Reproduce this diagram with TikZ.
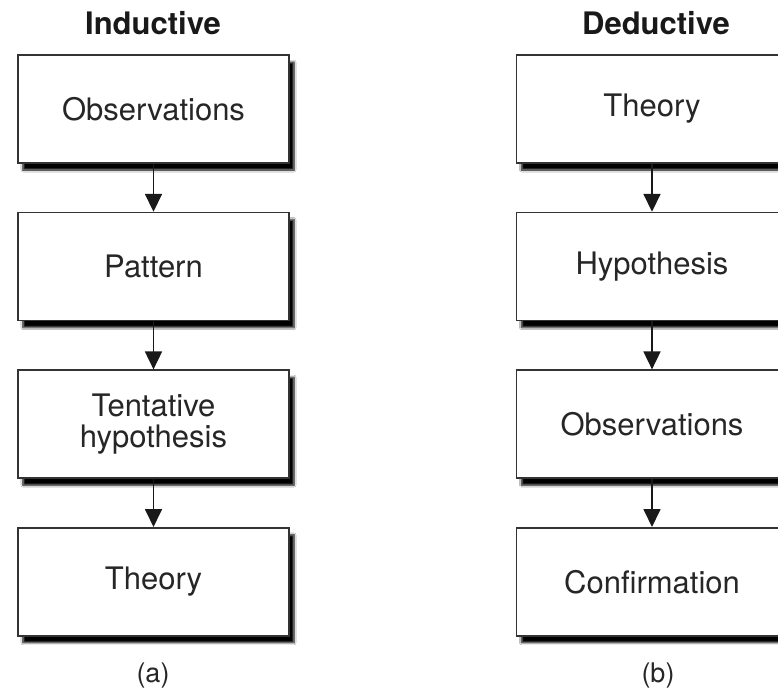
\documentclass[tikz,border=0pt]{standalone}
\usepackage{fontspec}
\setmainfont{TeX Gyre Heros}
\usetikzlibrary{positioning,arrows.meta,shadows.blur}
\tikzset{
  stage/.style={draw=black!80, line width=0.8pt, fill=white,
    minimum width=135.5pt, minimum height=54pt, align=center,
    font=\fontsize{15.5}{15.5}\selectfont, text=black!85,
    blur shadow={shadow xshift=2.5pt, shadow yshift=-3.5pt, shadow blur steps=6,
      shadow blur radius=1pt, shadow opacity=100}},
  flow/.style={-{Triangle[length=9pt,width=8.5pt]}, line width=0.9pt, black!90},
  heading/.style={font=\bfseries\fontsize{15.5}{17}\selectfont, text=black!90},
  caption/.style={font=\fontsize{13.5}{15}\selectfont, text=black!85},
}
\begin{document}
\begin{tikzpicture}[x=0.5pt, y=-0.5pt, node distance=24pt]
\clip (0,0) rectangle (778,690);
\fill[white] (0,0) rectangle (778,690);
% inductive
\node[heading] (ind) at (153,23) {Inductive};
\node[stage] (iobs) at (153.5,109) {Observations};
\node[stage, below=of iobs] (ipat) {Pattern};
\node[stage, below=of ipat] (ihyp) {Tentative\\hypothesis};
\node[stage, below=of ihyp] (ithy) {Theory};
\node[caption] (a) at (153,676) {(a)};
\draw[flow](iobs)--(ipat);
\draw[flow](ipat)--(ihyp);
\draw[flow](ihyp)--(ithy);
% deductive
\node[heading] (ded) at (656,23) {Deductive};
\node[stage] (dthy) at (652,109) {Theory};
\node[stage, below=of dthy] (dhyp) {Hypothesis};
\node[stage, below=of dhyp] (dobs) {Observations};
\node[stage, below=of dobs] (dcon) {Confirmation};
\node[caption] (b) at (658,676) {(b)};
\draw[flow](dthy)--(dhyp);
\draw[flow](dhyp)--(dobs);
\draw[flow](dobs)--(dcon);
\end{tikzpicture}
\end{document}
